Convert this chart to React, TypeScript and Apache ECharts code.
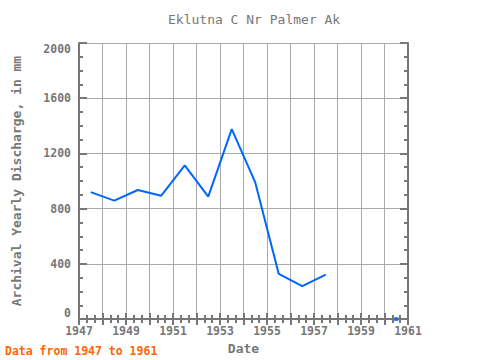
import React, { useEffect, useRef } from "react";
import * as echarts from "echarts";

const years = [1947.5, 1948.5, 1949.5, 1950.5, 1951.5, 1952.5, 1953.5, 1954.5, 1955.5, 1956.5, 1957.5];
const discharge = [920, 858, 935, 894, 1113, 887, 1376, 990, 327, 239, 322];
const isolatedYears = [1960.5];
const isolatedValues = [0];

const FONT = "DejaVu Sans Mono";
const GREY = "#777777";

export default function App() {
  const ref = useRef<HTMLDivElement>(null);
  useEffect(() => {
    const chart = echarts.init(ref.current!, null, { renderer: "svg" });
    const tickCommon = { show: true, inside: true, length: 6, lineStyle: { color: GREY, width: 2 } };
    const minorCommon = { show: true, length: 4, lineStyle: { color: GREY, width: 2 } };
    chart.setOption({
      animation: false,
      backgroundColor: "#ffffff",
      title: {
        text: "Eklutna C Nr Palmer Ak",
        left: 163,
        top: 8,
        textStyle: { fontFamily: FONT, fontSize: 13, fontWeight: "normal", color: GREY },
      },
      graphic: [
        {
          type: "text",
          left: 5,
          top: 345,
          style: {
            text: "Data from 1947 to 1961",
            fill: "#ff6600",
            font: "bold 11.5px " + FONT,
          },
        },
      ],
      grid: { left: 79, right: 72, top: 43, bottom: 38 },
      xAxis: [
        {
          type: "value",
          min: 1947,
          max: 1961,
          interval: 1,
          name: "Date",
          nameLocation: "middle",
          nameGap: 19,
          nameTextStyle: { fontFamily: FONT, fontSize: 13, fontWeight: "bold", color: GREY },
          axisLine: { show: true, lineStyle: { color: GREY, width: 2 } },
          axisTick: tickCommon,
          minorTick: { ...minorCommon, splitNumber: 3 },
          splitLine: { show: true, lineStyle: { color: "#aaaaaa", width: 1 } },
          axisLabel: {
            fontFamily: FONT,
            fontSize: 11.5,
            fontWeight: "bold",
            color: GREY,
            margin: 6,
            formatter: (v: number) => ((v - 1947) % 2 === 0 ? String(v) : ""),
          },
        },
        {
          type: "value",
          position: "top",
          min: 1947,
          max: 1961,
          interval: 1,
          axisLine: { show: true, lineStyle: { color: GREY, width: 2 } },
          axisTick: tickCommon,
          minorTick: { ...minorCommon, splitNumber: 3 },
          splitLine: { show: false },
          axisLabel: { show: false },
        },
      ],
      yAxis: [
        {
          type: "value",
          min: 0,
          max: 2000,
          interval: 400,
          name: "Archival Yearly Discharge, in mm",
          nameLocation: "middle",
          nameGap: 56,
          nameTextStyle: { fontFamily: FONT, fontSize: 13, fontWeight: "bold", color: GREY },
          axisLine: { show: true, lineStyle: { color: GREY, width: 2 } },
          axisTick: { ...tickCommon, length: 8 },
          minorTick: { ...minorCommon, splitNumber: 4 },
          splitLine: { show: true, lineStyle: { color: "#aaaaaa", width: 1 } },
          axisLabel: {
            fontFamily: FONT,
            fontSize: 11.5,
            fontWeight: "bold",
            color: GREY,
            margin: 8,
            verticalAlignMinLabel: "bottom",
            verticalAlignMaxLabel: "top",
            formatter: (v: number) => String(v),
          },
        },
        {
          type: "value",
          position: "right",
          min: 0,
          max: 2000,
          interval: 400,
          axisLine: { show: true, lineStyle: { color: GREY, width: 2 } },
          axisTick: { ...tickCommon, length: 8 },
          minorTick: { ...minorCommon, splitNumber: 4 },
          splitLine: { show: false },
          axisLabel: { show: false },
        },
      ],
      series: [
        {
          type: "line",
          data: years.map((y, i) => [y, discharge[i]]),
          showSymbol: false,
          lineStyle: { color: "#0066ff", width: 2 },
          itemStyle: { color: "#0066ff" },
        },
        {
          type: "scatter",
          data: isolatedYears.map((y, i) => [y, isolatedValues[i]]),
          symbol: "rect",
          symbolSize: 4,
          itemStyle: { color: "#0066ff" },
          clip: false,
        },
      ],
    });
    return () => chart.dispose();
  }, []);
  return <div ref={ref} style={{ width: 480, height: 360, position: "absolute", left: 0, top: 0 }} />;
}
